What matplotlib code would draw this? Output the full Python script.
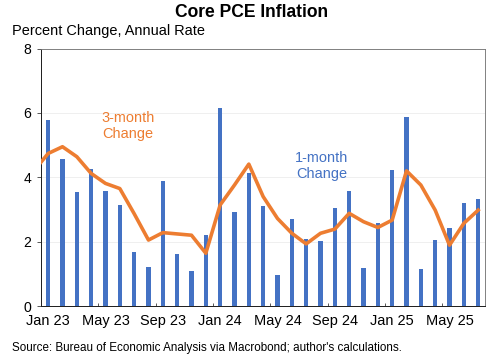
import matplotlib.pyplot as plt
import numpy as np

plt.rcParams['font.family'] = ['Liberation Sans', 'DejaVu Sans']

# monthly data, Jan 23 .. Jul 25
months = ["Jan 23", "Feb 23", "Mar 23", "Apr 23", "May 23", "Jun 23", "Jul 23", "Aug 23",
          "Sep 23", "Oct 23", "Nov 23", "Dec 23", "Jan 24", "Feb 24", "Mar 24", "Apr 24",
          "May 24", "Jun 24", "Jul 24", "Aug 24", "Sep 24", "Oct 24", "Nov 24", "Dec 24",
          "Jan 25", "Feb 25", "Mar 25", "Apr 25", "May 25", "Jun 25", "Jul 25"]
one_month = [5.78, 4.57, 3.53, 4.25, 3.58, 3.14, 1.68, 1.22, 3.90, 1.61, 1.10, 2.20,
             6.15, 2.91, 4.14, 3.10, 0.97, 2.69, 2.08, 2.02, 3.04, 3.57, 1.17, 2.59,
             4.22, 5.87, 1.14, 2.05, 2.41, 3.20, 3.33]
# 3-month series starts one month earlier (Dec 22)
three_month = [4.20, 4.74, 4.95, 4.64, 4.12, 3.81, 3.65, 2.87, 2.05, 2.28, 2.24, 2.20,
               1.64, 3.14, 3.76, 4.41, 3.40, 2.72, 2.26, 1.93, 2.26, 2.39, 2.88, 2.62,
               2.44, 2.67, 4.20, 3.76, 2.98, 1.89, 2.57, 2.98]
yticks = [0, 2, 4, 6, 8]

blue = "#4472C4"
orange = "#ED7D31"

x = np.arange(len(months))
x_line = np.arange(-1, len(months))

fig = plt.figure(figsize=(7, 5), dpi=72)
ax = fig.add_axes([0.0813, 0.15, 0.8817, 0.715])

ax.yaxis.grid(True, color="#ececec", linewidth=0.8)
ax.set_axisbelow(True)
ax.bar(x, one_month, width=0.32, color=blue, zorder=2)
ax.plot(x_line, three_month, color=orange, linewidth=3.6, zorder=3)

ax.set_xlim(-0.5, 30.5)
ax.set_ylim(0, 8)
ax.set_yticks(yticks)
ax.set_yticklabels([str(v) for v in yticks], fontsize=14)
ax.tick_params(axis="y", length=4, width=0.8, pad=6, color="#333333")

ax.set_xticks(x[::4])
ax.set_xticklabels(months[::4], fontsize=14.5)
ax.tick_params(axis="x", length=0, pad=8)
ax.set_xticks(np.arange(3.5, 30.5, 4), minor=True)
ax.tick_params(axis="x", which="minor", direction="in", length=3, width=0.8, color="#333333")

for side in ["top", "right"]:
    ax.spines[side].set_color("#777777")
    ax.spines[side].set_linewidth(0.9)
for side in ["left", "bottom"]:
    ax.spines[side].set_color("#222222")
    ax.spines[side].set_linewidth(1.0)

ax.text(5.57, 5.6, "3-month\nChange", color=orange, fontsize=14.5, ha="center",
        va="center", linespacing=1.2)
ax.text(19.1, 4.35, "1-month\nChange", color=blue, fontsize=14.5, ha="center",
        va="center", linespacing=1.2)

fig.text(0.5, 0.965, "Core PCE Inflation", fontsize=17.5, fontweight="bold",
         ha="center", va="center")
fig.text(0.024, 0.915, "Percent Change, Annual Rate", fontsize=14.5, ha="left", va="center")
fig.text(0.024, 0.033, "Source: Bureau of Economic Analysis via Macrobond; author's calculations.",
         fontsize=11.6, ha="left", va="center")

fig.savefig("out.png", dpi=72)
